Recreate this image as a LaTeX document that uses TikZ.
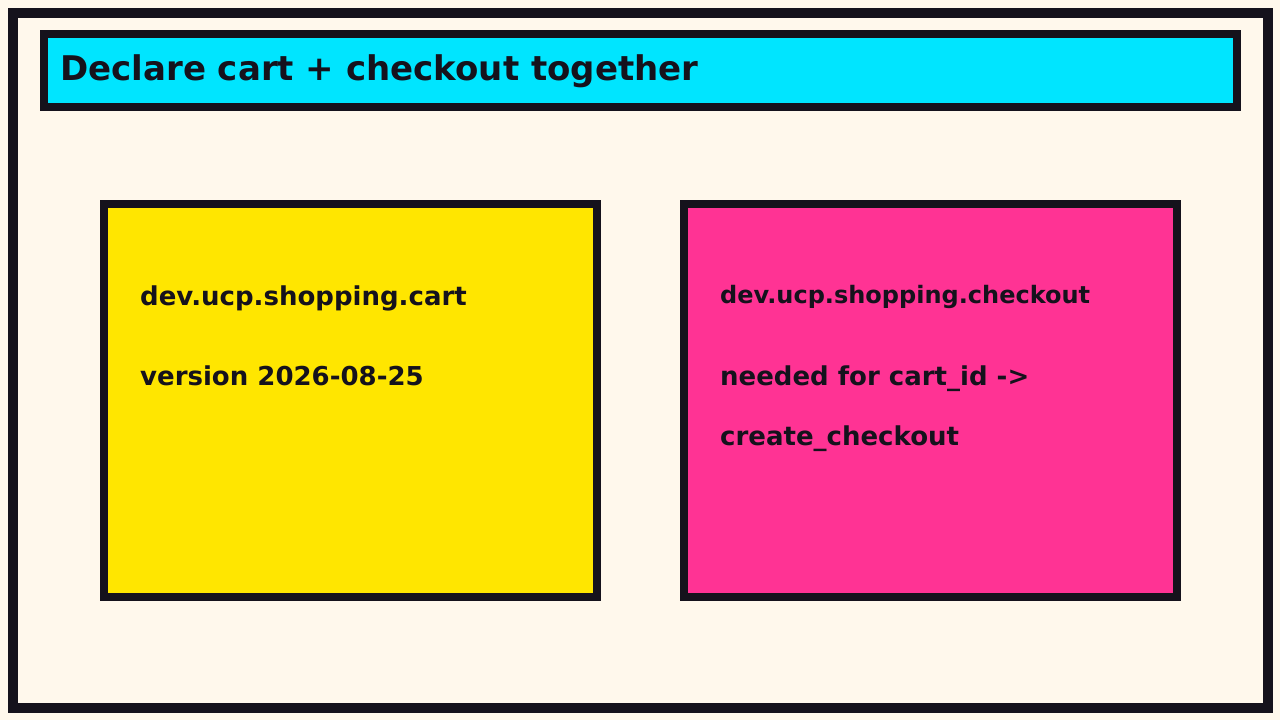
\documentclass[tikz,border=0pt]{standalone}
\usepackage{fontspec}
\setmainfont{DejaVu Sans}
\definecolor{cream}{HTML}{FFF8EC}
\definecolor{ink}{HTML}{15121C}
\definecolor{cyanbar}{HTML}{00E5FF}
\definecolor{yellowbox}{HTML}{FFE600}
\definecolor{pinkbox}{HTML}{FF3394}
\tikzset{
  panel/.style={draw=ink, line width=8pt, rectangle, inner sep=0pt, outer sep=0pt},
  label/.style={anchor=base west, inner sep=0pt, text=ink, font=\bfseries\fontsize{26}{30}\selectfont},
}
\begin{document}
\begin{tikzpicture}[x=1pt,y=-1pt]
\useasboundingbox (0,0) rectangle (1280,720);
\fill[cream] (0,0) rectangle (1280,720);
\draw[ink, line width=10pt] (13,13) rectangle (1268,708);
\node[panel, fill=cyanbar, minimum width=1193pt, minimum height=73pt] (title) at (640.5,70.5) {};
\node[anchor=base west, inner sep=0pt, text=ink, font=\bfseries\fontsize{34}{40}\selectfont] (titletext) at (60,80) {Declare cart + checkout together};
\node[panel, fill=yellowbox, minimum width=493pt, minimum height=393pt] (cart) at (350.5,400.5) {};
\node[panel, fill=pinkbox, minimum width=493pt, minimum height=393pt] (checkout) at (930.5,400.5) {};
\node[label] (c1) at (140,305) {dev.ucp.shopping.cart};
\node[label] (c2) at (140,385) {version 2026-08-25};
\node[label, font=\bfseries\fontsize{24}{28}\selectfont] (k1) at (720,303) {dev.ucp.shopping.checkout};
\node[label] (k2) at (720,385) {needed for cart\_id ->};
\node[label] (k3) at (720,445) {create\_checkout};
\end{tikzpicture}
\end{document}
